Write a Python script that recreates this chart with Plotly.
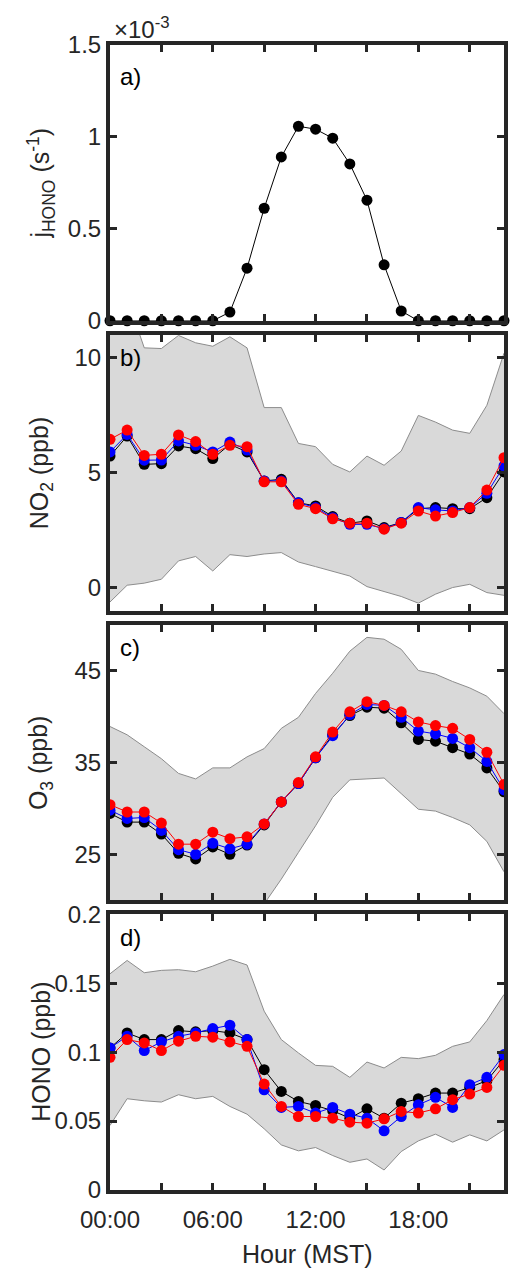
import plotly.graph_objects as go

# Hour of day (MST)
hours = list(range(24))

# a) HONO photolysis frequency (s^-1)
j_hono = [0, 0, 0, 0, 0, 0, 0, 0.047e-3, 0.286e-3, 0.612e-3, 0.891e-3, 1.058e-3,
          1.042e-3, 0.993e-3, 0.853e-3, 0.656e-3, 0.304e-3, 0.053e-3, 0, 0, 0, 0, 0, 0]

# b) NO2 (ppb)
no2_hi = [12.5, 12.6, 10.43, 10.40, 10.97, 10.65, 10.5, 10.91, 10.43, 7.83, 7.83, 6.27,
          6.13, 5.36, 5.03, 5.72, 5.32, 5.94, 7.49, 7.2, 6.85, 6.71, 7.93, 10.2]
no2_lo = [-0.63, 0.1, 0.19, 0.36, 1.16, 1.35, 0.72, 1.43, 1.35, 1.46, 1.52, 1.11,
          0.91, 0.72, 0.5, 0.04, -0.19, -0.39, -0.68, -0.29, 0.0, 0.14, -0.22, -0.34]
no2_k = [5.72, 6.59, 5.36, 5.39, 6.16, 6.04, 5.61, 6.23, 5.9, 4.64, 4.71, 3.69,
         3.55, 3.09, 2.8, 2.9, 2.61, 2.83, 3.43, 3.48, 3.43, 3.43, 3.91, 5.03]
no2_b = [5.9, 6.66, 5.54, 5.55, 6.38, 6.19, 5.9, 6.33, 5.98, 4.64, 4.64, 3.69,
         3.48, 3.04, 2.75, 2.75, 2.56, 2.83, 3.48, 3.38, 3.33, 3.48, 4.1, 5.29]
no2_r = [6.45, 6.85, 5.75, 5.8, 6.64, 6.35, 5.8, 6.19, 6.13, 4.6, 4.6, 3.62,
         3.43, 2.99, 2.8, 2.8, 2.54, 2.8, 3.33, 3.11, 3.26, 3.48, 4.24, 5.65]

# c) O3 (ppb)
o3_hi = [38.9, 38.0, 36.7, 35.4, 33.8, 33.2, 34.4, 34.4, 35.6, 36.5, 38.7, 39.9,
         42.5, 44.7, 47.1, 48.6, 48.4, 47.3, 45.0, 44.6, 43.8, 43.1, 42.2, 40.3]
o3_lo = [16.0, 15.5, 15.0, 14.5, 14.0, 13.5, 14.0, 14.2, 16.9, 19.6, 22.3, 25.2,
         28.1, 31.2, 33.1, 33.2, 33.3, 31.6, 29.9, 29.7, 29.0, 28.2, 26.4, 23.1]
o3_k = [29.45, 28.5, 28.5, 27.2, 25.1, 24.5, 25.8, 25.0, 26.0, 28.2, 30.7, 32.7,
        35.5, 38.0, 40.1, 41.0, 40.9, 39.3, 37.5, 37.3, 36.6, 35.9, 34.4, 31.8]
o3_b = [29.8, 28.9, 29.0, 27.6, 25.5, 25.0, 26.2, 25.6, 26.1, 28.3, 30.7, 32.7,
        35.5, 37.9, 40.2, 41.3, 41.2, 39.9, 38.4, 38.1, 37.6, 36.6, 35.1, 32.0]
o3_r = [30.4, 29.6, 29.6, 28.4, 26.1, 26.1, 27.4, 26.7, 26.9, 28.3, 30.7, 32.8,
        35.6, 38.3, 40.5, 41.6, 41.2, 40.5, 39.4, 39.0, 38.7, 37.5, 36.1, 32.6]

# d) HONO (ppb)
hono_hi = [0.1568, 0.1665, 0.1576, 0.1593, 0.1598, 0.1583, 0.1624, 0.1673, 0.1632, 0.1297,
           0.1091, 0.0994, 0.0904, 0.0897, 0.0817, 0.0928, 0.0885, 0.0962, 0.0953, 0.0977,
           0.1042, 0.1074, 0.1229, 0.1418]
hono_lo = [0.0468, 0.0662, 0.0647, 0.0638, 0.0691, 0.0662, 0.0679, 0.0606, 0.0550, 0.0444,
           0.0327, 0.0284, 0.0308, 0.0250, 0.0201, 0.0225, 0.0145, 0.0279, 0.0356, 0.0405,
           0.0347, 0.0400, 0.0356, 0.0436]
hono_k = [0.1030, 0.1139, 0.1091, 0.1091, 0.1156, 0.1147, 0.1156, 0.1139, 0.1091, 0.0873,
          0.0715, 0.0642, 0.0613, 0.0575, 0.0521, 0.0589, 0.0521, 0.0630, 0.0662, 0.0703,
          0.0703, 0.0744, 0.0793, 0.0945]
hono_b = [0.1030, 0.1115, 0.1011, 0.1074, 0.1115, 0.1139, 0.1171, 0.1195, 0.1091, 0.0727,
          0.0599, 0.0606, 0.0558, 0.0599, 0.0550, 0.0521, 0.0429, 0.0533, 0.0618, 0.0672,
          0.0599, 0.0764, 0.0817, 0.0982]
hono_r = [0.0962, 0.1091, 0.1067, 0.1011, 0.1079, 0.1115, 0.1108, 0.1074, 0.1042, 0.0768,
          0.0606, 0.0533, 0.0533, 0.0521, 0.0492, 0.0485, 0.0516, 0.0570, 0.0558, 0.0589,
          0.0655, 0.0696, 0.0744, 0.0904]

x_tickvals = [0, 3, 6, 9, 12, 15, 18, 21]
x_ticktext = ["00:00", "", "06:00", "", "12:00", "", "18:00", ""]

W, H = 514, 1270
ML, MR, MT, MB = 110, 6, 45, 80
PW, PH = W - ML - MR, H - MT - MB
FRAME = "#262626"
FONT = "Liberation Sans, Arial, sans-serif"
GAP = 14
PANEL_H = (PH - 3 * GAP) / 4


def px_x(px):
    return (px - ML) / PW


def px_y(py):
    return (H - MB - py) / PH


fig = go.Figure()

# panel index 0..3 from top
domains = []
for i in range(4):
    top = MT + i * (PANEL_H + GAP)
    bot = top + PANEL_H
    domains.append((top, bot, [px_y(bot), px_y(top)]))

panels = [
    dict(hi=None, lo=None, series=[(j_hono, "black")],
         yrange=[0, 0.0015], tickvals=[0, 0.0005, 0.001, 0.0015],
         ticktext=["0", "0.5", "1", "1.5"],
         ytitle="j<sub>HONO</sub> (s<sup>-1</sup>)", label="a)"),
    dict(hi=no2_hi, lo=no2_lo, series=[(no2_k, "black"), (no2_b, "#0000ff"), (no2_r, "#ff0000")],
         yrange=[-1, 11], tickvals=[0, 5, 10], ticktext=["0", "5", "10"],
         ytitle="NO<sub>2</sub> (ppb)", label="b)"),
    dict(hi=o3_hi, lo=o3_lo, series=[(o3_k, "black"), (o3_b, "#0000ff"), (o3_r, "#ff0000")],
         yrange=[20, 50], tickvals=[25, 35, 45], ticktext=["25", "35", "45"],
         ytitle="O<sub>3</sub> (ppb)", label="c)"),
    dict(hi=hono_hi, lo=hono_lo, series=[(hono_k, "black"), (hono_b, "#0000ff"), (hono_r, "#ff0000")],
         yrange=[0, 0.2], tickvals=[0, 0.05, 0.1, 0.15, 0.2],
         ticktext=["0", "0.05", "0.1", "0.15", "0.2"],
         ytitle="HONO (ppb)", label="d)"),
]

annotations = []
for i, p in enumerate(panels):
    n = "" if i == 0 else str(i + 1)
    xa, ya = "x" + n, "y" + n
    if p["hi"] is not None:
        fig.add_trace(go.Scatter(x=hours, y=p["lo"], mode="lines",
                                 line=dict(color="#8c8c8c", width=1),
                                 xaxis=xa, yaxis=ya, showlegend=False))
        fig.add_trace(go.Scatter(x=hours, y=p["hi"], mode="lines", fill="tonexty",
                                 fillcolor="#d9d9d9",
                                 line=dict(color="#8c8c8c", width=1),
                                 xaxis=xa, yaxis=ya, showlegend=False))
    for vals, col in p["series"]:
        fig.add_trace(go.Scatter(x=hours, y=vals, mode="lines+markers",
                                 line=dict(color=col, width=1),
                                 marker=dict(color=col, size=11),
                                 cliponaxis=(i != 0),
                                 xaxis=xa, yaxis=ya, showlegend=False))

    top, bot, dom = domains[i]
    axis_common = dict(showline=True, linecolor=FRAME, linewidth=4, mirror="ticks",
                       ticks="inside", ticklen=7, tickwidth=3, tickcolor=FRAME,
                       showgrid=False, zeroline=False,
                       tickfont=dict(family=FONT, size=24, color=FRAME))
    fig.update_layout(**{
        "xaxis" + n: dict(axis_common, domain=[0, 1], range=[0, 23],
                          anchor=ya, tickmode="array", tickvals=x_tickvals,
                          ticktext=x_ticktext, showticklabels=(i == 3),
                          ticklabelstandoff=5),
        "yaxis" + n: dict(axis_common, domain=dom, range=p["yrange"], anchor=xa,
                          tickmode="array", tickvals=p["tickvals"], ticktext=p["ticktext"]),
    })
    # y-axis title
    annotations.append(dict(x=px_x(40), y=px_y((top + bot) / 2), xref="paper", yref="paper",
                            text=p["ytitle"], textangle=-90, showarrow=False,
                            xanchor="center", yanchor="middle",
                            font=dict(family=FONT, size=25, color=FRAME)))
    # panel letter
    ly = top + (32 if i == 0 else 23)
    annotations.append(dict(x=px_x(118), y=px_y(ly), xref="paper", yref="paper",
                            text=p["label"], showarrow=False, xanchor="left", yanchor="middle",
                            font=dict(family=FONT, size=24, color="black")))

# exponent marker for panel a
annotations.append(dict(x=px_x(112), y=px_y(28), xref="paper", yref="paper",
                        text="\u00d710<sup>-3</sup>", showarrow=False,
                        xanchor="left", yanchor="middle",
                        font=dict(family=FONT, size=24, color=FRAME)))
# x-axis title
annotations.append(dict(x=px_x(309), y=px_y(1254), xref="paper", yref="paper",
                        text="Hour (MST)", showarrow=False, xanchor="center", yanchor="middle",
                        font=dict(family=FONT, size=25, color=FRAME)))

fig.update_layout(width=W, height=H, margin=dict(l=ML, r=MR, t=MT, b=MB),
                  paper_bgcolor="white", plot_bgcolor="white",
                  annotations=annotations, showlegend=False)

fig.write_html("out.html")
